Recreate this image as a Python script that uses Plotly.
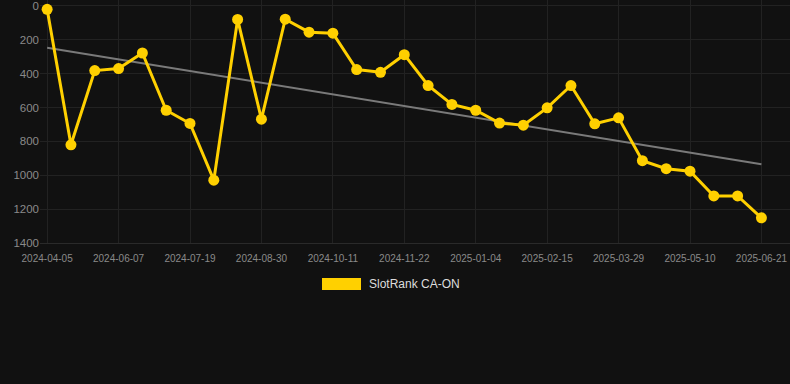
import plotly.graph_objects as go

tick_labels = ["2024-04-05", "2024-06-07", "2024-07-19", "2024-08-30", "2024-10-11",
               "2024-11-22", "2025-01-04", "2025-02-15", "2025-03-29", "2025-05-10", "2025-06-21"]
ranks = [20, 820, 382, 370, 278, 616, 694, 1029, 80, 669, 78, 155, 161, 376, 392,
         288, 470, 582, 616, 692, 704, 602, 470, 696, 661, 914, 961, 976, 1122, 1122, 1251]
trend_values = [247, 935]
series_name = "SlotRank CA-ON"

idx = list(range(len(ranks)))
tick_pos = [i * 3 for i in range(len(tick_labels))]

fig = go.Figure()
fig.add_trace(go.Scatter(
    x=[idx[0], idx[-1]], y=trend_values, mode="lines",
    line=dict(color="#7a7a7a", width=2), showlegend=False, hoverinfo="skip"))
fig.add_trace(go.Scatter(
    x=idx, y=ranks, mode="lines+markers", name=series_name,
    line=dict(color="#FFD000", width=3),
    marker=dict(color="#FFD000", size=11), showlegend=False))

fig.add_shape(type="rect", xref="paper", yref="paper",
              x0=(322 - 40) / 750, x1=(361 - 40) / 750,
              y0=(243 - 290) / 243, y1=(243 - 278) / 243,
              fillcolor="#FFD000", line=dict(width=0))
fig.add_annotation(xref="paper", yref="paper", x=(367 - 40) / 750, y=(243 - 284) / 243,
                   text=series_name, showarrow=False, xanchor="left", yanchor="middle",
                   font=dict(size=12, color="#dddddd"))

fig.update_layout(
    width=790, height=384,
    paper_bgcolor="#111111", plot_bgcolor="#111111",
    margin=dict(l=40, r=0, t=0, b=141),
    font=dict(family="Liberation Sans, Arial, sans-serif", color="#8a8a8a"),
    xaxis=dict(range=[-0.3, 31.2], tickvals=tick_pos, ticktext=tick_labels,
               showgrid=True, gridcolor="#222222", zeroline=False,
               showline=True, linecolor="#2a2a2a", tickfont=dict(size=10, color="#8a8a8a"),
               ticks="", ticklen=0, ticklabelstandoff=6, ticklabeloverflow="allow"),
    yaxis=dict(range=[1400, -35], tickvals=[0, 200, 400, 600, 800, 1000, 1200, 1400],
               showgrid=True, gridcolor="#222222", zeroline=False,
               tickfont=dict(size=11.5, color="#8a8a8a"), ticks="", ticklen=0,
               ticklabeloverflow="allow"),
    showlegend=False,
)
fig.write_html("out.html", config={"displayModeBar": False},
               post_script="document.body.style.margin='0';document.body.style.background='#111111';")
